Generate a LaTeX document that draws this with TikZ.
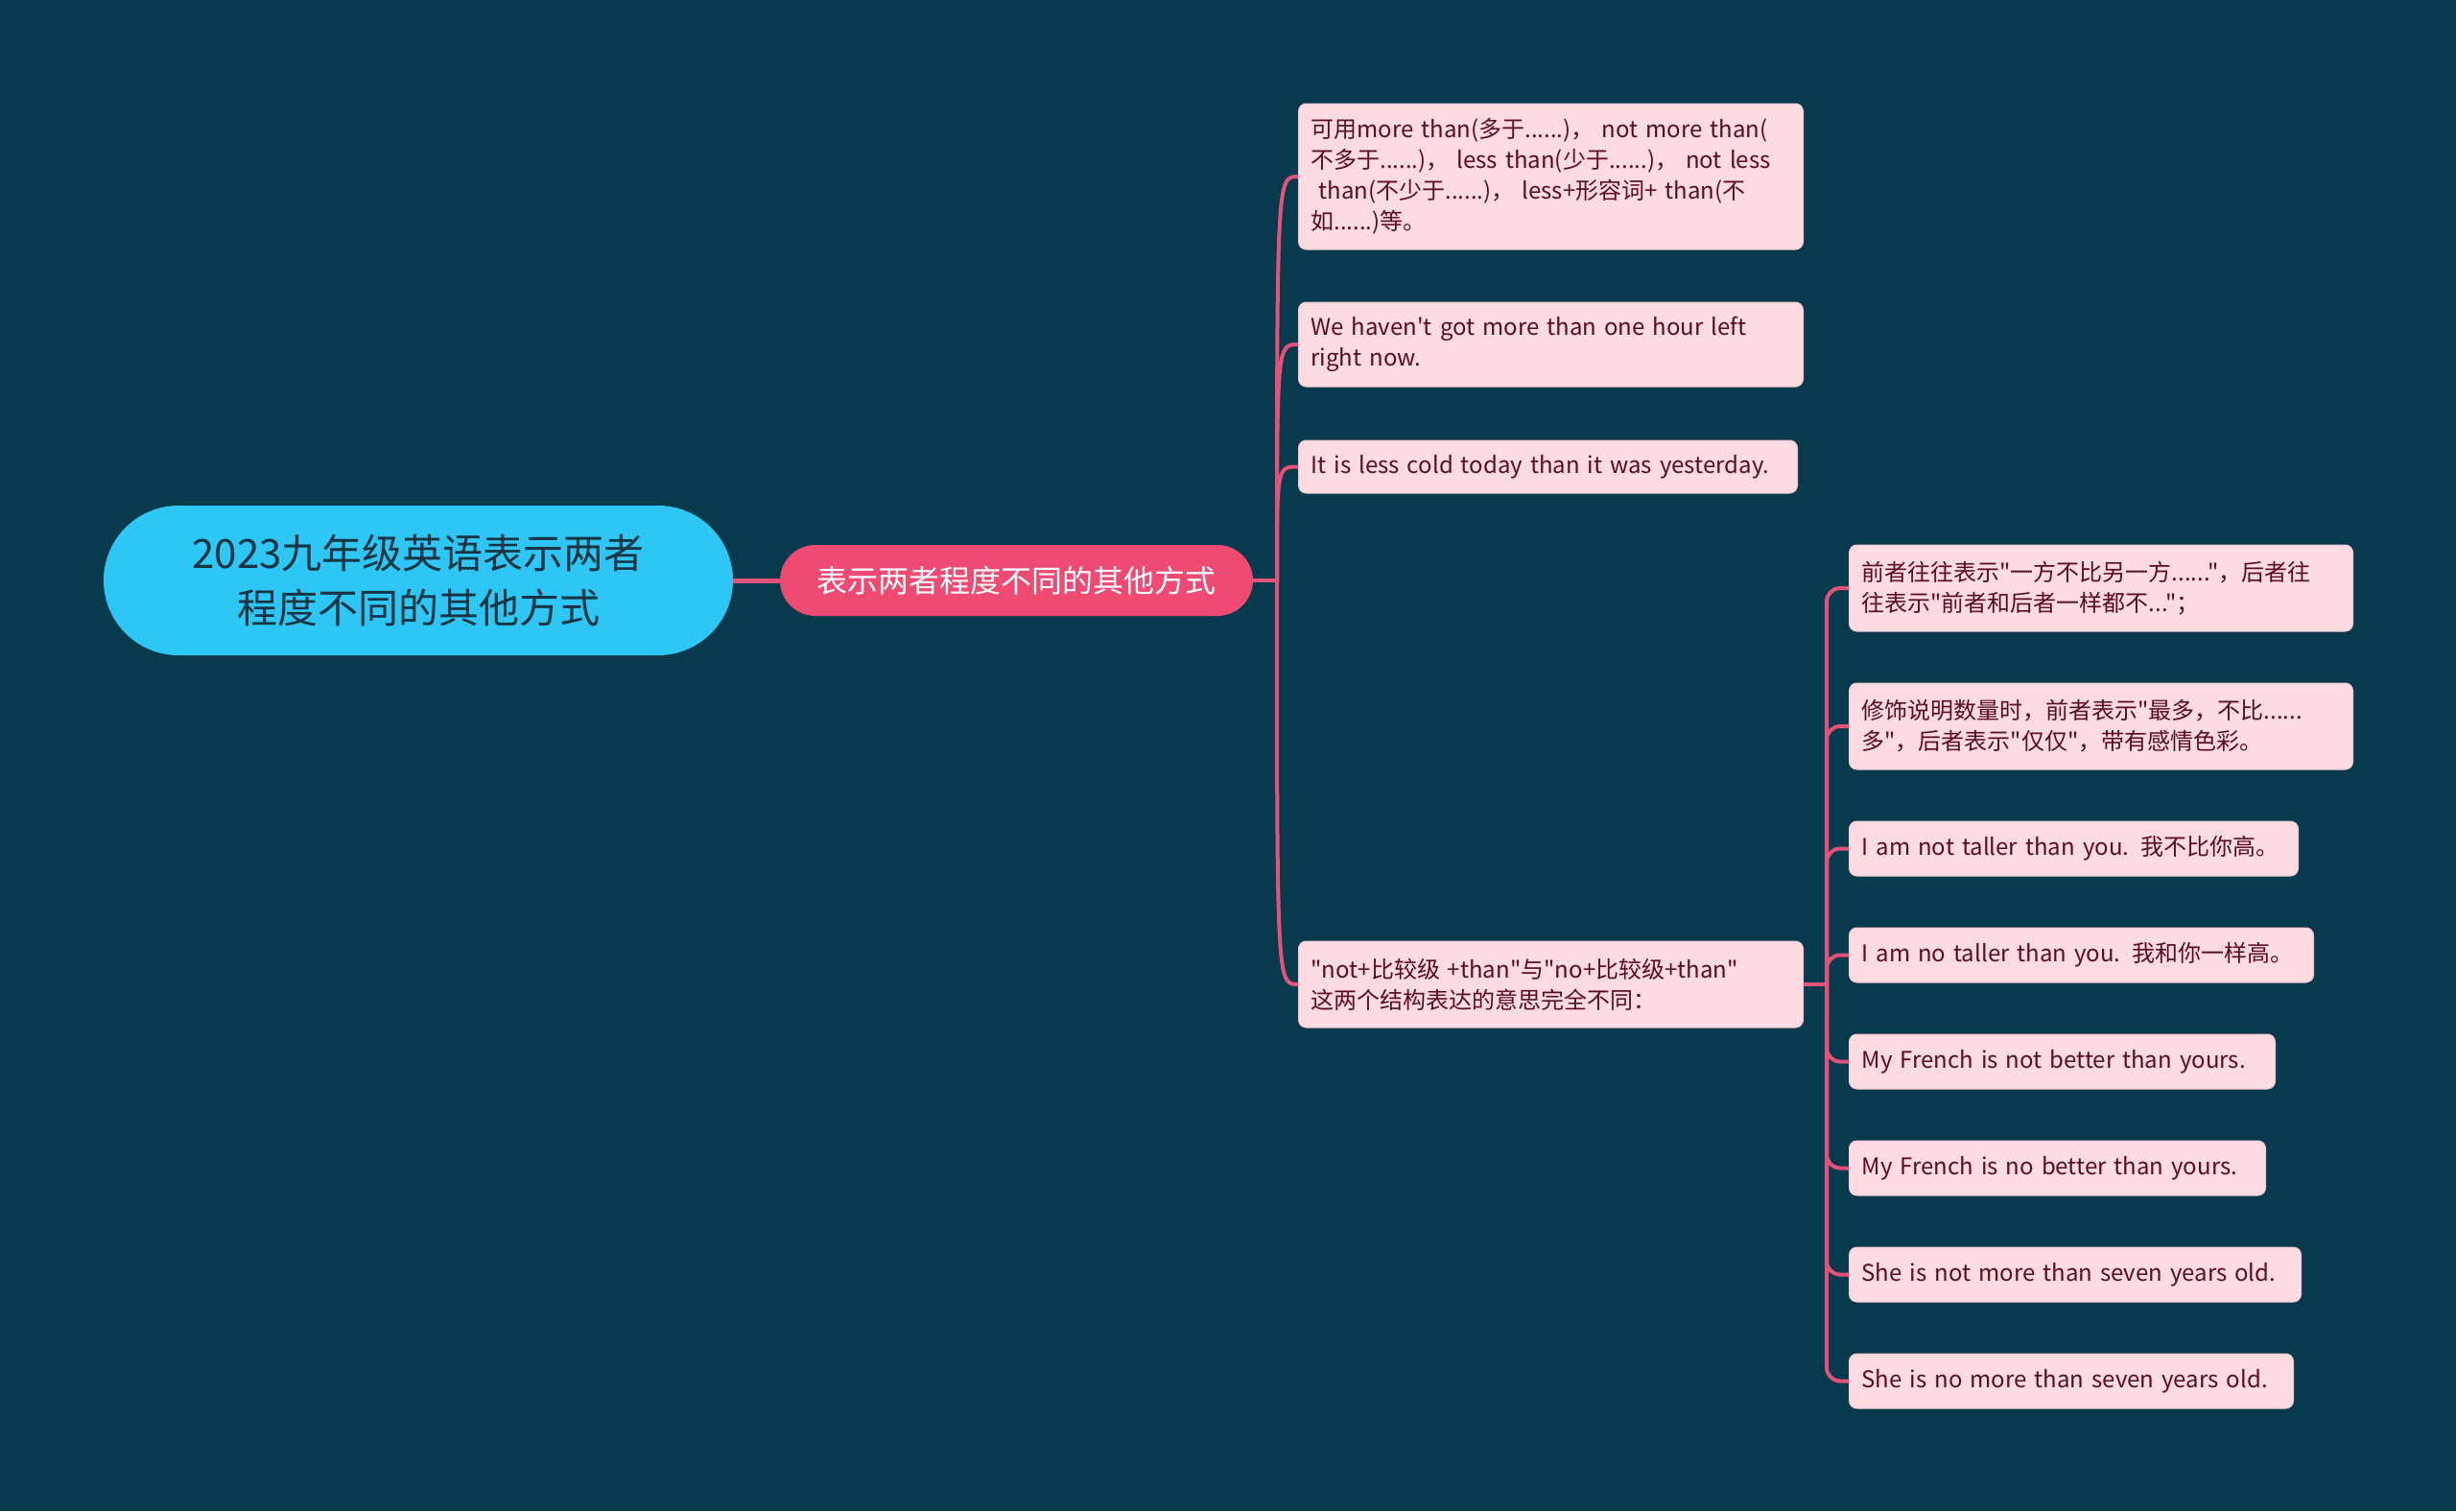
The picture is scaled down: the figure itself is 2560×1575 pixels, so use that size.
\documentclass[tikz,border=0pt]{standalone}
\usepackage{fontspec}
\setmainfont{Noto Sans CJK SC}[Ligatures=TeXOff]
\usetikzlibrary{positioning}
\definecolor{bgteal}{RGB}{7,58,77}
\definecolor{rootcyan}{RGB}{45,198,245}
\definecolor{rootink}{RGB}{22,52,66}
\definecolor{mainpink}{RGB}{238,74,114}
\definecolor{linkpink}{RGB}{228,82,122}
\definecolor{leaffill}{RGB}{252,219,226}
\definecolor{leafedge}{RGB}{244,196,208}
\definecolor{leafink}{RGB}{92,12,32}
\newcommand{\sizefont}[2]{\fontsize{#1}{#2}\selectfont}

\begin{document}
\begin{tikzpicture}[x=1pt,y=-1pt,
  rootnode/.style={fill=rootcyan,text=rootink,rounded corners=78pt,minimum width=656pt,minimum height=156pt,align=center,font=\sizefont{42}{57}},
  mainnode/.style={fill=mainpink,text=white,rounded corners=37pt,minimum width=493pt,minimum height=74pt,font=\sizefont{32}{40}},
  leaf/.style={fill=leaffill,draw=leafedge,line width=1pt,rounded corners=8pt,text=leafink,align=left,inner xsep=13pt,inner ysep=0pt,anchor=west,font=\sizefont{24}{32}},
  link/.style={draw=linkpink,line width=4pt}]
\fill[bgteal] (0,0) rectangle (2560,1575);

\node[rootnode] (root) at (436,605) {2023九年级英语表示两者\\程度不同的其他方式};
\node[mainnode] (main) at (1059.5,605) {表示两者程度不同的其他方式};
\draw[link,line width=5pt] (root) -- (main);

% second level
\node[leaf,text width=500pt,minimum height=152pt] (usage) at (1353,184) {可用more than(多于......)， not more than(\\不多于......)， less than(少于......)， not less\\\ than(不少于......)， less+形容词+ than(不\\如......)等。};
\node[leaf,text width=500pt,minimum height=88pt] (hour) at (1353,359) {We haven't got more than one hour left\\right now.};
\node[leaf,text width=494pt,minimum height=55pt] (cold) at (1353,486.5) {It is less cold today than it was yesterday.};
\node[leaf,text width=500pt,minimum height=90pt] (notno) at (1353,1026) {"not+比较级 +than"与"no+比较级+than"\\这两个结构表达的意思完全不同：};

\coordinate (hub) at (1331,605);
\draw[link] (main.east) -- (hub);
\foreach \n in {usage,hour,cold,notno}
  \draw[link] (hub) .. controls (hub |- \n.west) .. (\n.west);

% third level
\coordinate (hubb) at (1904,1026);
\draw[link] (notno.east) -- (hubb);
\foreach \n/\y/\w/\h/\t in {
  former/613/499/90/{前者往往表示"一方不比另一方......"，后者往\\往表示"前者和后者一样都不..."；},
  amount/757/499/90/{修饰说明数量时，前者表示"最多，不比......\\多"，后者表示"仅仅"，带有感情色彩。},
  nottall/884.5/442/57/{I am not taller than you. 我不比你高。},
  notall/995.5/458/57/{I am no taller than you. 我和你一样高。},
  notbet/1106.5/418/57/{My French is not better than yours.},
  nobet/1217.5/408/57/{My French is no better than yours.},
  notmore/1328.5/445/57/{She is not more than seven years old.},
  nomore/1439.5/437/57/{She is no more than seven years old.}}{
  \node[leaf,text width=\w pt,minimum height=\h pt] (\n) at (1927,\y) {\t};
  \draw[link,rounded corners=14pt] (hubb) |- (\n.west);
}
\end{tikzpicture}
\end{document}
